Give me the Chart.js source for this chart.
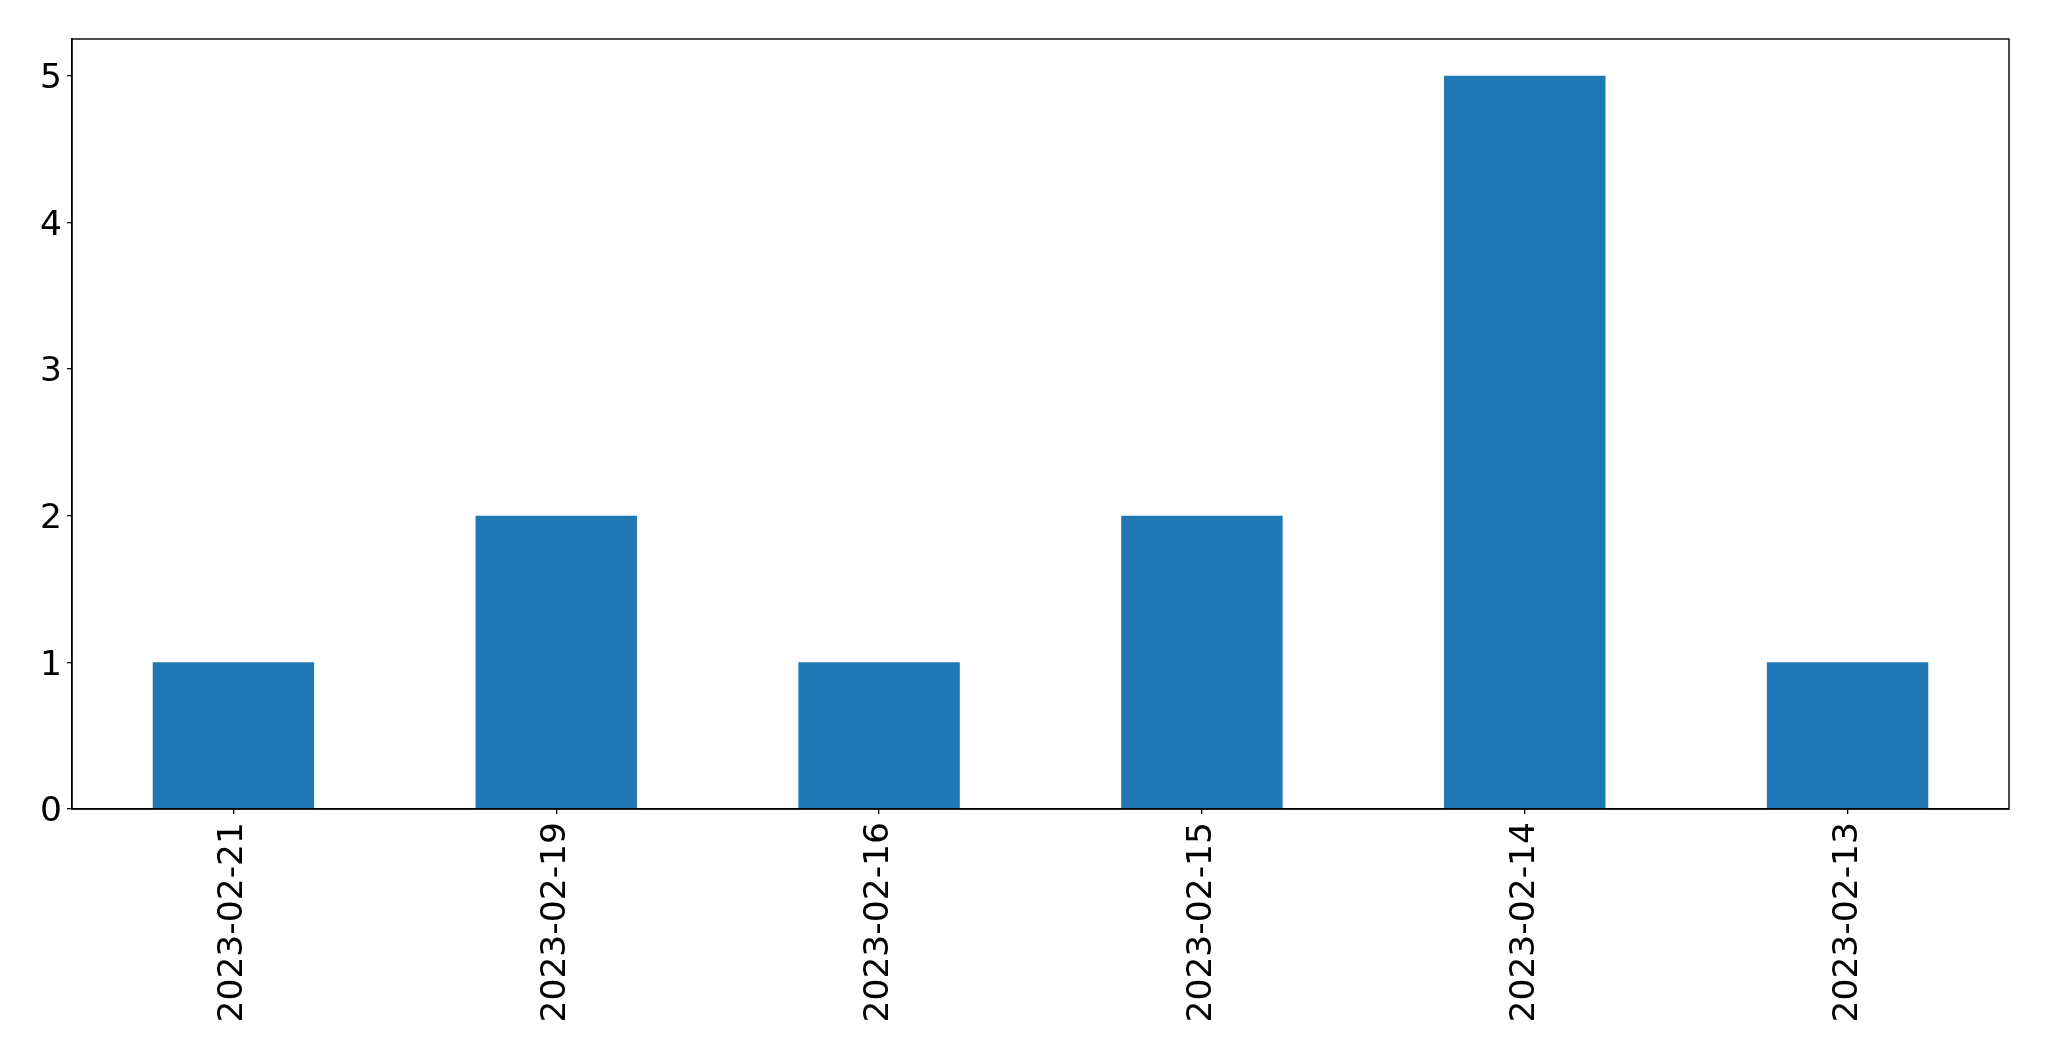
<!DOCTYPE html>
<html>
<head>
<meta charset="utf-8">
<script src="https://cdn.jsdelivr.net/npm/chart.js@4/dist/chart.umd.min.js"></script>
<style>
html,body{margin:0;padding:0;background:#fff;}
#wrap{width:2049px;height:1061px;position:relative;}
</style>
</head>
<body>
<div id="wrap"><canvas id="c" width="2049" height="1061"></canvas></div>
<script>
const categories = ['2023-02-21','2023-02-19','2023-02-16','2023-02-15','2023-02-14','2023-02-13'];
const counts = [1, 2, 1, 2, 5, 1];
const yTicks = [0, 1, 2, 3, 4, 5];

const frame = {
  id: 'frame',
  afterDraw(chart) {
    const a = chart.chartArea, ctx = chart.ctx;
    ctx.save();
    ctx.strokeStyle = '#000';
    ctx.lineWidth = 1.4;
    ctx.strokeRect(a.left, a.top, a.right - a.left, a.bottom - a.top);
    ctx.restore();
  }
};

new Chart(document.getElementById('c'), {
  type: 'bar',
  data: {
    labels: categories,
    datasets: [{
      data: counts,
      backgroundColor: '#1f77b4',
      borderWidth: 0,
      barPercentage: 0.5,
      categoryPercentage: 1.0
    }]
  },
  options: {
    responsive: false,
    animation: false,
    devicePixelRatio: 1,
    layout: { padding: { top: 39, right: 40, left: 0, bottom: 0 } },
    plugins: { legend: { display: false }, tooltip: { enabled: false } },
    scales: {
      x: {
        offset: true,
        grid: { display: true, drawOnChartArea: false, drawTicks: true, tickLength: 5, tickColor: '#000', offset: false, lineWidth: 1.3 },
        border: { display: true, color: '#000', width: 1.4 },
        ticks: {
          color: '#000', font: { family: 'DejaVu Sans', size: 34.5 },
          minRotation: 90, maxRotation: 90, autoSkip: false, padding: 8
        },
        afterFit(s) { s.height = 1061 - 809; }
      },
      y: {
        min: 0, max: 5.25,
        grid: { display: true, drawOnChartArea: false, drawTicks: true, tickLength: 5, tickColor: '#000', lineWidth: 1.3 },
        border: { display: true, color: '#000', width: 1.4 },
        afterBuildTicks(s) { s.ticks = yTicks.map(v => ({ value: v })); },
        ticks: {
          color: '#000', font: { family: 'DejaVu Sans', size: 34.5 }, padding: 5,
          callback: v => String(v)
        },
        afterFit(s) {
          s.width = 72;
          if (!s._shifted) {
            const orig = s.drawLabels;
            s.drawLabels = function (area) {
              const ctx = this.ctx;
              ctx.save();
              ctx.translate(0, 3.5);
              orig.call(this, area);
              ctx.restore();
            };
            s._shifted = true;
          }
        }
      }
    }
  },
  plugins: [frame]
});
</script>
</body>
</html>
